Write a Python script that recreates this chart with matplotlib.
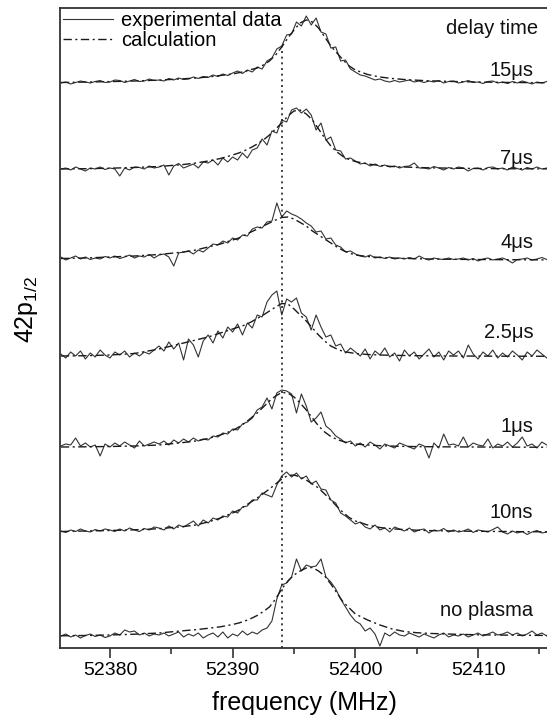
import numpy as np
import matplotlib

matplotlib.use("Agg")
import matplotlib.pyplot as plt  # noqa: E402

plt.rcParams["font.family"] = ["Liberation Sans", "DejaVu Sans"]
plt.rcParams["mathtext.fontset"] = "custom"
plt.rcParams["mathtext.rm"] = "Liberation Sans"
plt.rcParams["mathtext.it"] = "Liberation Sans:italic"

# delay-time labels, top trace first
LABELS = ["15\u03bcs", "7\u03bcs", "4\u03bcs", "2.5\u03bcs", "1\u03bcs", "10ns", "no plasma"]

# vertical offset of each trace (arb. units) and where its label sits
OFFSETS = [564, 478, 387, 291, 200, 115, 11]
LABEL_Y = [578, 490, 406, 315, 221, 136, 38]

MARKER_FREQ = 52394.0  # dotted reference line

# experimental traces are sampled every 0.4 MHz
EXP_FREQ = np.linspace(52376, 52416, 101)

exp_15us = [
    1, 2, 0, 1.5, 3, 2, 1, 2.5, 3.5, 1.5,
    2, 4, 3.5, 1.5, 3, 4.5, 2.5, 3, 5, 3.5,
    4, 3, 5.5, 4, 6, 4.5, 5, 7, 5.5, 7.5,
    6.5, 9, 7.5, 10, 8.5, 11, 13, 10.5, 14, 12,
    17, 15, 23, 26, 35, 38, 49, 50, 62, 58,
    68, 59, 66, 52, 50, 36, 37, 23, 24, 15,
    12, 9, 8, 6, 4, 5, 3, 2, 3.5, 2,
    3, 4, 2, 3, 1.5, 3, 2, 3.5, 1, 2.5,
    3, 1, 2, 3.5, 1.5, 2, 0.5, 2.5, 3, 1,
    2, 0.5, 2.5, 1, 3, 1.5, 0, 2, 1, 2.5,
    1.5,
]
exp_7us = [
    1, 2, 0, 3, 1, -1, 2, 1, 3, 0.5,
    2, 1, -6, 2, 0, 3, 2.5, 1, 4, 2,
    3, 5, -5, 4, 6.5, 2, 4, 6, 2, 8,
    7, 10, 5, 12, 8, 13, 10, 17, 12, 20,
    22, 31, 25, 39, 37, 50, 48, 60, 62, 57,
    61, 55, 40, 47, 30, 33, 20, 19, 11, 12,
    9, 6, 7, 4, 6, 3.5, 5, 3, 4, 2,
    3.5, 4, 7, 2, 2, 1, 3.5, 2, 0, 2.5,
    1, 3, 2, -1, 1.5, 2, 0, 2.5, 3, 1,
    2, 0, 3, 1.5, 0, 2.5, 1, 3, 1, 2,
    1.5,
]
exp_4us = [
    4, 1, 3, 5, 2, 4, 1.5, 3, 2, 4.5,
    3, 5, 2.5, 4, 6, 3, 5, 4, 6.5, 3,
    6, 7, 4, -5, 8, 9, 10, 7, 11, 9,
    13, 17, 16, 20, 18, 23, 21, 26, 25, 32,
    34, 33, 39, 40, 58, 44, 50, 47, 45, 42,
    38, 35, 29, 30, 22, 23, 16, 14, 9, 10,
    7, 5, 4, 6, 3, 4, 2.5, 4, 2, 3,
    2, 3.5, 2, 5, 2.5, 1, 3, 2, 1.5, 3,
    1.5, 2, 3, 1, 2.5, 0, 2, 3, 1, 2,
    3, 1, -2, 1.5, 2, 3, 1, 2, 3.5, 1.5,
    2,
]
exp_2p5us = [
    3, -1, 5, 1, 6, -2, 4, 0, 7, 2,
    -1, 5, 2, 6, 0, 4, 1, 5, 3, 7,
    11, 6, 15, 8, 14, -3, 18, 12, 0, 16,
    22, 14, 26, 19, 30, 25, 33, 22, 34, 29,
    42, 40, 55, 62, 66, 42, 58, 55, 59, 44,
    40, 27, 42, 30, 20, 22, 11, 13, 4, 9,
    5, 1, 8, -2, 6, 2, 9, 0, 4, -4,
    7, 1, 5, -2, 3, 8, 0, 5, -3, 6,
    2, 6, -1, 12, 3, -2, 5, 1, 7, -1,
    4, 0, 6, 2, -3, 5, 1, 7, 3, -1,
    4,
]
exp_1us = [
    2, 4, 3, 10, 2, 5, 1, 3, -8, 4,
    1, 5, 2, 6, 3, 0, 7, 2, 4, 6,
    4, 7, 3, 8, 5, 9, 6, 10, 7, 9,
    8, 12, 11, 15, 14, 19, 18, 24, 26, 30,
    38, 41, 50, 39, 55, 58, 57, 54, 35, 54,
    42, 26, 30, 36, 22, 18, 12, 9, 5, 7,
    2, 5, 1, 6, 3, -1, 4, 2, 0, 5,
    3, 1, -1, 4, 2, -10, 5, 0, 14, 3,
    4, 2, 11, 1, 5, 3, 2, 9, 0, 4,
    2, 6, 1, 5, 11, 2, 4, 0, 6, 3,
    2,
]
exp_10ns = [
    2, 0.5, 3, 1.5, 4, 2, 1, 3.5, 2, 4,
    3, 1.5, 4, 2, 5, 3, 1.5, 4.5, 3, 6,
    5, 3, 7, 4, 8, 6, 9, 12, 7, 13,
    10, 15, 13, 17, 16, 22, 20, 26, 27, 33,
    33, 40, 38, 36, 48, 57, 61, 56, 60, 54,
    57, 49, 52, 44, 43, 33, 30, 20, 17, 13,
    9, 11, 6, 4, 8, 3, 5, 1, 6, 4,
    2, 5, 1, 3, 4, 0, 3, 2, 4.5, 1,
    3, 1, 2, 4, 0.5, 3, 2, 1, 3.5, 6,
    1, -1, 2, 0, 1.5, -1.5, 1, 2.5, 0, 1,
    1,
]
exp_noplasma = [
    1, 3, 0, 2, -1, 1.5, 3, 0.5, 2, -0.5,
    1, 4, 2, 7, 5, 6, 2, 4, 1, 3,
    2, 4, 1, 3, 5, 0, 3, 1, 4, -1,
    2, 4, 0, 5, -1, 3, 1, 6, 2, 5,
    3, 7, 9, 16, 38, 52, 54, 60, 78, 66,
    72, 70, 71, 78, 60, 55, 48, 38, 30, 22,
    16, 13, 6, 9, 3, -9, 4, 1, 5, 2,
    1, 4, 2, 0, 3, 1, -1, 2, 4, 0,
    2, 1, 3, 0, 2, 4, 1, 3, 5, 2,
    3, 5, 2, 4, 1, 3, 6, 2, 4, 1,
    3,
]

# calculated line shapes, denser sampling around the peak
CALC_FREQ = [
    52376, 52378, 52380, 52382, 52384, 52386, 52387, 52388, 52389,
    52390, 52390.5, 52391, 52391.5, 52392, 52392.5, 52393, 52393.5,
    52394, 52394.5, 52395, 52395.5, 52396, 52396.5, 52397, 52397.5,
    52398, 52398.5, 52399, 52399.5, 52400,
    52401, 52402, 52403, 52404, 52405, 52406,
    52408, 52410, 52412, 52414, 52416,
]
calc_15us = [
    1.5, 1.9, 2.4, 3.0, 3.9, 5.2, 6.0, 7.0, 8.5,
    10, 11.3, 12.5, 14.5, 16, 19, 23, 29, 37, 46, 54, 61, 64, 62, 56, 47,
    38, 31, 24, 18, 14,
    9.5, 7, 5.5, 4.5, 3.8, 3.2,
    2.5, 2.0, 1.6, 1.4, 1.2,
]
calc_7us = [
    1, 1.3, 1.8, 2.5, 3.5, 5.5, 7, 9, 11.5,
    15, 17, 19.5, 22.5, 26, 30, 35, 41, 47, 54, 59, 60, 56, 50, 41, 32,
    24, 18, 13.5, 10.5, 8.5,
    6, 4.5, 3.5, 3, 2.5, 2.2,
    1.8, 1.5, 1.3, 1.2, 1.1,
]
calc_4us = [
    2.5, 3, 4, 5, 6.5, 9, 11, 14, 17,
    21, 23, 26, 29, 32, 35, 38, 41, 43.5, 44, 42, 38.5, 35, 30, 26, 22,
    18, 14, 10.5, 8, 6,
    4.5, 3.5, 3, 2.6, 2.3, 2,
    1.7, 1.5, 1.3, 1.2, 1.1,
]
calc_2p5us = [
    1, 1.3, 2, 3.5, 8, 14, 17, 20, 24,
    28, 30, 32, 35, 38.5, 42, 46, 50, 53.5, 53, 48, 42, 36, 29, 22, 16,
    11, 8, 5.5, 4.5, 3.5,
    2.5, 2, 1.7, 1.5, 1.3, 1.2,
    1, 0.9, 0.8, 0.8, 0.7,
]
calc_1us = [
    1, 1.2, 1.5, 2, 3, 5.5, 7, 9.5, 13,
    17.5, 21, 25, 30, 35, 41, 47, 52, 55.5, 55, 51, 45, 38, 30, 22, 16,
    11.5, 8.5, 6.5, 5, 4,
    3, 2.3, 1.9, 1.6, 1.4, 1.3,
    1.1, 1, 0.9, 0.8, 0.8,
]
calc_10ns = [
    1.5, 2, 2.5, 3.2, 4.3, 6.5, 8, 11, 15,
    20, 23, 27, 31, 35, 39.5, 44, 49, 54, 57.5, 58, 56, 53, 49, 45, 39,
    33, 26.5, 20.5, 15.5, 12,
    8, 5.5, 4.2, 3.4, 2.8, 2.4,
    2, 1.7, 1.5, 1.3, 1.2,
]
calc_noplasma = [
    1.2, 1.5, 2, 2.8, 4, 6.3, 7.3, 8.7, 10.2,
    12.5, 14, 16, 18.5, 21.5, 25.5, 30, 38, 48, 56, 62, 66, 69, 69.5, 66, 61,
    53, 44, 35, 29, 23,
    17, 12, 8, 5.5, 4.3, 3.6,
    2.8, 2.2, 1.9, 1.7, 1.5,
]

EXP = [exp_15us, exp_7us, exp_4us, exp_2p5us, exp_1us, exp_10ns, exp_noplasma]
CALC = [calc_15us, calc_7us, calc_4us, calc_2p5us, calc_1us, calc_10ns, calc_noplasma]

fig = plt.figure(figsize=(5.47, 7.25), dpi=100)
ax = fig.add_axes([60 / 547, 77 / 725, 489 / 547, 640 / 725])

calc_style = (0, (6, 2.5, 1.5, 2.5))
handles = []
for label, off, ly, exp, calc in zip(LABELS, OFFSETS, LABEL_Y, EXP, CALC):
    h_exp, = ax.plot(EXP_FREQ, np.asarray(exp) + off, color="#333333", lw=0.8)
    h_calc, = ax.plot(CALC_FREQ, np.asarray(calc) + off, color="#1a1a1a",
                      lw=1.0, ls=calc_style)
    if not handles:
        handles = [h_exp, h_calc]
    ax.text(52414.5, ly, label, ha="right", va="center", fontsize=14.5, color="#111")

ax.text(52414.9, 620, "delay time", ha="right", va="center", fontsize=14.5, color="#111")

# dotted line at the unperturbed position, up to the top trace
top = OFFSETS[0] + np.interp(MARKER_FREQ, EXP_FREQ, exp_15us)
ax.vlines(MARKER_FREQ, 0, top, colors="#222", linestyles=(0, (1.2, 2.2)), lw=1.2)

ax.legend(handles, ["experimental data", "calculation"], loc="upper left",
          bbox_to_anchor=(0, 1), frameon=False, borderaxespad=0, borderpad=0.15,
          handlelength=2.5, handletextpad=0.4, labelspacing=0.05, fontsize=14.5)

ax.set_xlim(52375.93, 52415.78)
ax.set_ylim(0, 640)
ax.set_yticks([])
ax.set_xticks([52380, 52390, 52400, 52410])
ax.set_xticks([52385, 52395, 52405, 52415], minor=True)
ax.tick_params(axis="x", which="major", direction="out", length=7, width=1.2,
               labelsize=14, pad=3, color="#333")
ax.tick_params(axis="x", which="minor", direction="out", length=4, width=1.2, color="#333")
for sp in ax.spines.values():
    sp.set_linewidth(1.3)
    sp.set_color("#333")

ax.set_xlabel("frequency (MHz)", fontsize=18, labelpad=9)
ax.set_ylabel("42p$_{1/2}$", fontsize=18)
ax.yaxis.set_label_coords(-0.04, 0.53)

fig.savefig("out.png", dpi=100)
